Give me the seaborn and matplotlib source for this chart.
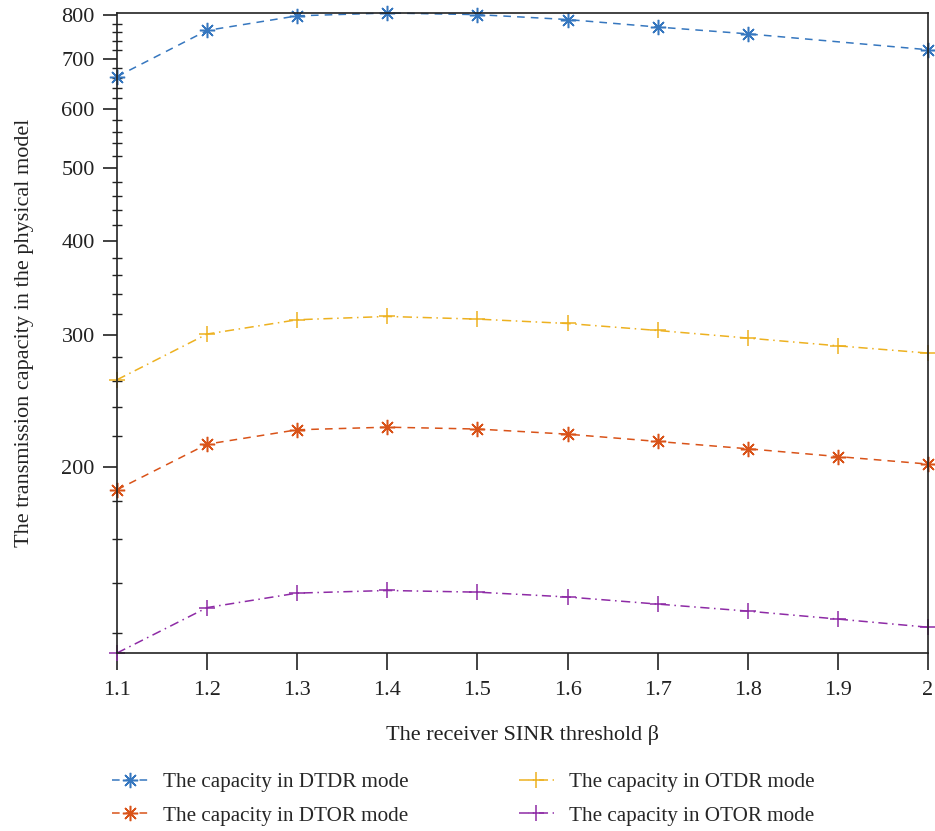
import numpy as np
import pandas as pd
import matplotlib
matplotlib.use("Agg")
import matplotlib.pyplot as plt
import seaborn as sns
from matplotlib.ticker import FixedLocator, NullFormatter

# ---- data ----
beta = [1.1, 1.2, 1.3, 1.4, 1.5, 1.6, 1.7, 1.8, 1.9, 2.0]
beta_dtdr = [1.1, 1.2, 1.3, 1.4, 1.5, 1.6, 1.7, 1.8, 2.0]
dtdr = [663, 764, 799, 806, 802, 790, 772, 756, 720]
otdr = [261.3, 300.7, 314.2, 317.4, 314.8, 310.6, 304.0, 297.0, 290.0, 283.6]
dtor = [186.4, 214.4, 224.1, 225.9, 224.6, 221.1, 216.2, 211.4, 206.4, 201.7]
otor = [112.9, 129.8, 135.7, 136.8, 136.1, 134.1, 131.2, 128.4, 125.3, 122.2]

x_tick_labels = ["1.1", "1.2", "1.3", "1.4", "1.5", "1.6", "1.7", "1.8", "1.9", "2"]
y_ticks = [200, 300, 400, 500, 600, 700, 800]
y_tick_labels = ["200", "300", "400", "500", "600", "700", "800"]

labels = ["The capacity in DTDR mode", "The capacity in DTOR mode",
          "The capacity in OTDR mode", "The capacity in OTOR mode"]
colors = ["#3677BF", "#D95319", "#EDB120", "#8E2BA6"]

sns.set_style("ticks")
plt.rcParams["font.family"] = ["Liberation Serif", "DejaVu Serif"]

fig = plt.figure(figsize=(9.35, 8.31), dpi=100)
ax = fig.add_axes([117 / 935, 1 - 653 / 831, (928 - 117) / 935, (653 - 13) / 831])

star = (8, 2, 0)
series = [
    (beta_dtdr, dtdr, labels[0], colors[0], (0, (5, 4)), star),
    (beta, dtor, labels[1], colors[1], (0, (5, 4)), star),
    (beta, otdr, labels[2], colors[2], (0, (6, 3, 1, 3)), "+"),
    (beta, otor, labels[3], colors[3], (0, (6, 3, 1, 3)), "+"),
]
for xs, ys, lab, col, ls, mk in series:
    df = pd.DataFrame({"x": xs, "y": ys})
    sns.lineplot(data=df, x="x", y="y", ax=ax, color=col, label=lab,
                 linestyle=ls, linewidth=1.1, marker=mk, markersize=11,
                 markeredgecolor=col, markeredgewidth=1.1, clip_on=False)

ax.set_yscale("log")
ax.set_xlim(1.1, 2.0)
ax.set_ylim(min(otor), max(dtdr))

ax.set_xticks(beta)
ax.set_xticklabels(x_tick_labels)
ax.yaxis.set_major_locator(FixedLocator(y_ticks))
ax.set_yticklabels(y_tick_labels)
minor = [v for v in range(120, 800, 20) if v % 100 != 0]
ax.yaxis.set_minor_locator(FixedLocator(minor))
ax.yaxis.set_minor_formatter(NullFormatter())

fs = 16
ax.tick_params(axis="x", which="major", direction="out", length=12, width=1.2,
               pad=8, labelsize=fs, color="#222222", labelcolor="#222222")
ax.tick_params(axis="y", which="major", direction="out", length=10, width=1.2,
               pad=6, labelsize=fs, color="#222222", labelcolor="#222222")
ax.tick_params(axis="y", which="minor", direction="inout", length=7, width=1.0,
               color="#222222")

for sp in ax.spines.values():
    sp.set_visible(True)
    sp.set_color("#222222")
    sp.set_linewidth(1.2)

ax.set_xlabel("The receiver SINR threshold β", fontsize=fs, color="#222222",
              labelpad=18)
ax.set_ylabel("The transmission capacity in the physical model", fontsize=fs,
              color="#222222", labelpad=20)

ax.legend(loc="upper left", bbox_to_anchor=(104 / 935, 1 - 764 / 831),
          bbox_transform=fig.transFigure, ncol=2, frameon=False, fontsize=15.2,
          handlelength=1.7, columnspacing=5.2, labelspacing=0.65,
          handletextpad=0.7, borderaxespad=0)

fig.savefig("out.png", dpi=100, facecolor="white")
